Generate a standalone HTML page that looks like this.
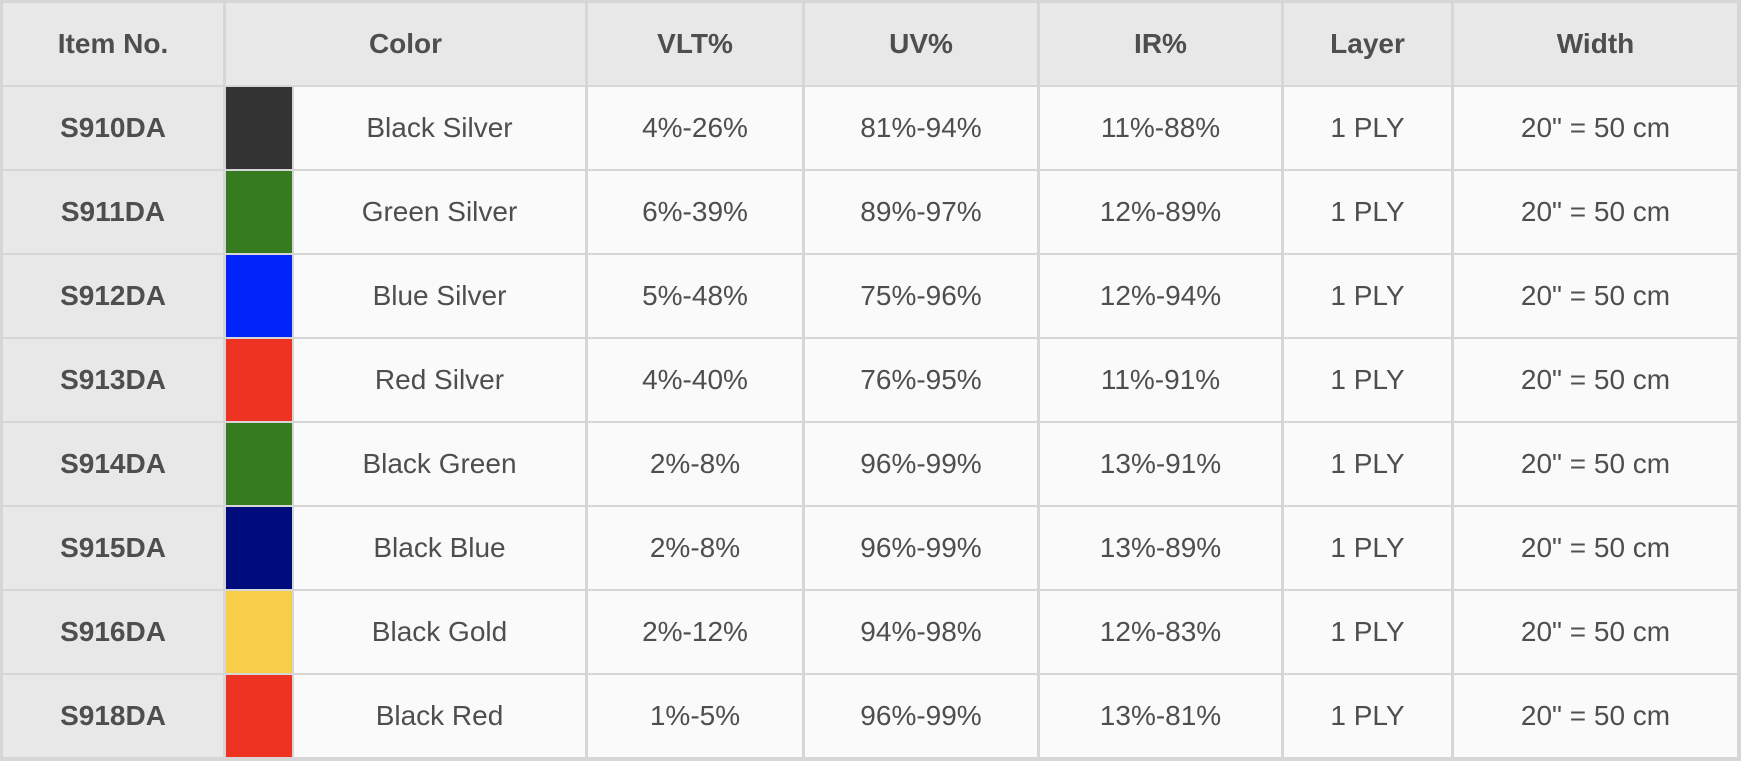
<!DOCTYPE html>
<html><head><meta charset="utf-8"><style>
body{margin:0;width:1742px;height:762px;background:#fff;position:relative;overflow:hidden;font-family:"Liberation Sans",Arial,sans-serif;}
#t{position:absolute;left:0;top:0;width:1741px;height:761px;background:#d6d6d6;}
.c{position:absolute;display:flex;align-items:center;justify-content:center;color:#4e4e4e;font-size:28px;background:#fafafa;}
.h{background:#e8e8e8;font-weight:bold;}
.f{background:#e8e8e8;font-weight:bold;}
</style></head><body><div id="t"></div>
<script>
const cols=[[3,223],[226,585],[588,802],[805,1037],[1040,1281],[1284,1451],[1454,1737]];
const heads=["Item No.","Color","VLT%","UV%","IR%","Layer","Width"];
const rows=[
["S910DA","#333333","Black Silver","4%-26%","81%-94%","11%-88%"],
["S911DA","#377b21","Green Silver","6%-39%","89%-97%","12%-89%"],
["S912DA","#0323fb","Blue Silver","5%-48%","75%-96%","12%-94%"],
["S913DA","#ee3322","Red Silver","4%-40%","76%-95%","11%-91%"],
["S914DA","#377b21","Black Green","2%-8%","96%-99%","13%-91%"],
["S915DA","#000c7b","Black Blue","2%-8%","96%-99%","13%-89%"],
["S916DA","#f8cd48","Black Gold","2%-12%","94%-98%","12%-83%"],
["S918DA","#ee3322","Black Red","1%-5%","96%-99%","13%-81%"]];
let h="";
function cell(x1,x2,y,cls,txt,bg){h+=`<div class="c ${cls}" style="left:${x1}px;width:${x2-x1}px;top:${y}px;height:82px;${bg?'background:'+bg:''}">${txt}</div>`;}
heads.forEach((t,i)=>cell(cols[i][0],cols[i][1],3,"h",t));
rows.forEach((r,k)=>{const y=3+84*(k+1);
cell(cols[0][0],cols[0][1],y,"f",r[0]);
cell(226,292,y,"","",r[1]);
cell(294,585,y,"",r[2]);
cell(cols[2][0],cols[2][1],y,"",r[3]);
cell(cols[3][0],cols[3][1],y,"",r[4]);
cell(cols[4][0],cols[4][1],y,"",r[5]);
cell(cols[5][0],cols[5][1],y,"","1 PLY");
cell(cols[6][0],cols[6][1],y,"",'20" = 50 cm');});
document.body.insertAdjacentHTML("beforeend",h);
</script>
</body></html>
